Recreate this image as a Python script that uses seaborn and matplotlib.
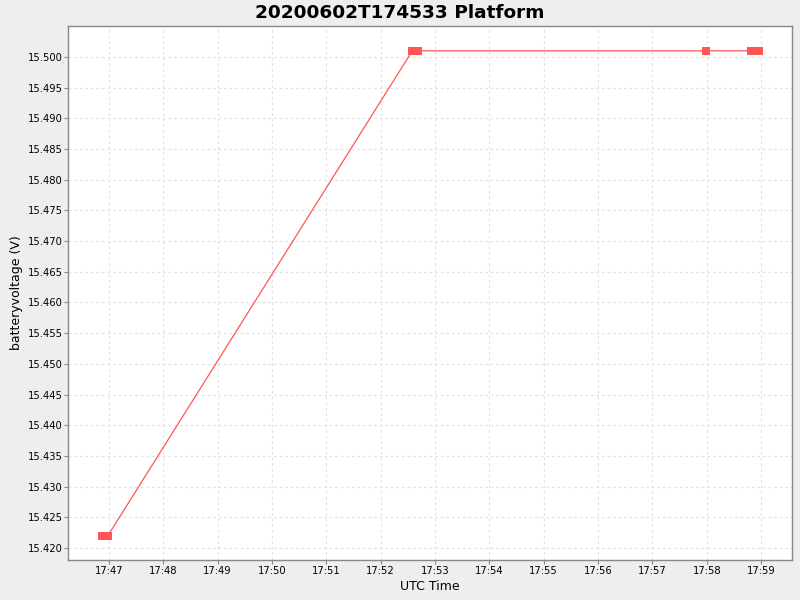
import pandas as pd
import matplotlib
matplotlib.use("Agg")
import matplotlib.pyplot as plt
import matplotlib.dates as mdates
import seaborn as sns

times = ["2020-06-02 17:46:52", "2020-06-02 17:46:59",
         "2020-06-02 17:52:35", "2020-06-02 17:52:41",
         "2020-06-02 17:57:59", "2020-06-02 17:58:49",
         "2020-06-02 17:58:58"]
voltage = [15.422, 15.422, 15.501, 15.501, 15.501, 15.501, 15.501]

df = pd.DataFrame({"time": pd.to_datetime(times), "voltage": voltage})

sns.set_style("white")
plt.rcParams["font.family"] = ["DejaVu Sans"]
plt.rcParams["text.color"] = "black"
plt.rcParams["axes.labelcolor"] = "black"
plt.rcParams["xtick.color"] = "black"
plt.rcParams["ytick.color"] = "black"

fig = plt.figure(figsize=(8, 6), dpi=100, facecolor="#EEEEEE")
ax = fig.add_axes([0.085, 0.0667, 0.905, 0.89])
ax.set_facecolor("white")

sns.lineplot(data=df, x="time", y="voltage", ax=ax, color="#FF5555",
             linewidth=0.9, marker="s", markersize=5.2,
             markeredgewidth=0, markerfacecolor="#FF5555")

ax.set_xlim(pd.Timestamp("2020-06-02 17:46:15"), pd.Timestamp("2020-06-02 17:59:34"))
ax.set_ylim(15.41804, 15.50505)
ax.set_yticks([15.420 + 0.005 * i for i in range(17)])
ax.yaxis.set_major_formatter(matplotlib.ticker.FormatStrFormatter("%.3f"))
ax.xaxis.set_major_locator(mdates.MinuteLocator())
ax.xaxis.set_major_formatter(mdates.DateFormatter("%H:%M"))

ax.grid(True, color="#E2E2E2", linestyle=(0, (2.5, 2.5)), linewidth=0.8)
for s in ax.spines.values():
    s.set_color("#888888")
    s.set_linewidth(1)
ax.tick_params(axis="both", labelsize=7.2, length=3, color="#888888", pad=1,
               direction="out", bottom=True, left=True, labelcolor="black")

ax.set_xlabel("UTC Time", fontsize=9, labelpad=3)
ax.set_ylabel("batteryvoltage (V)", fontsize=9, labelpad=3)
fig.suptitle("20200602T174533 Platform", fontsize=13.3, fontweight="bold",
             y=0.993, color="black")

fig.savefig("out.png", dpi=100, facecolor=fig.get_facecolor())
